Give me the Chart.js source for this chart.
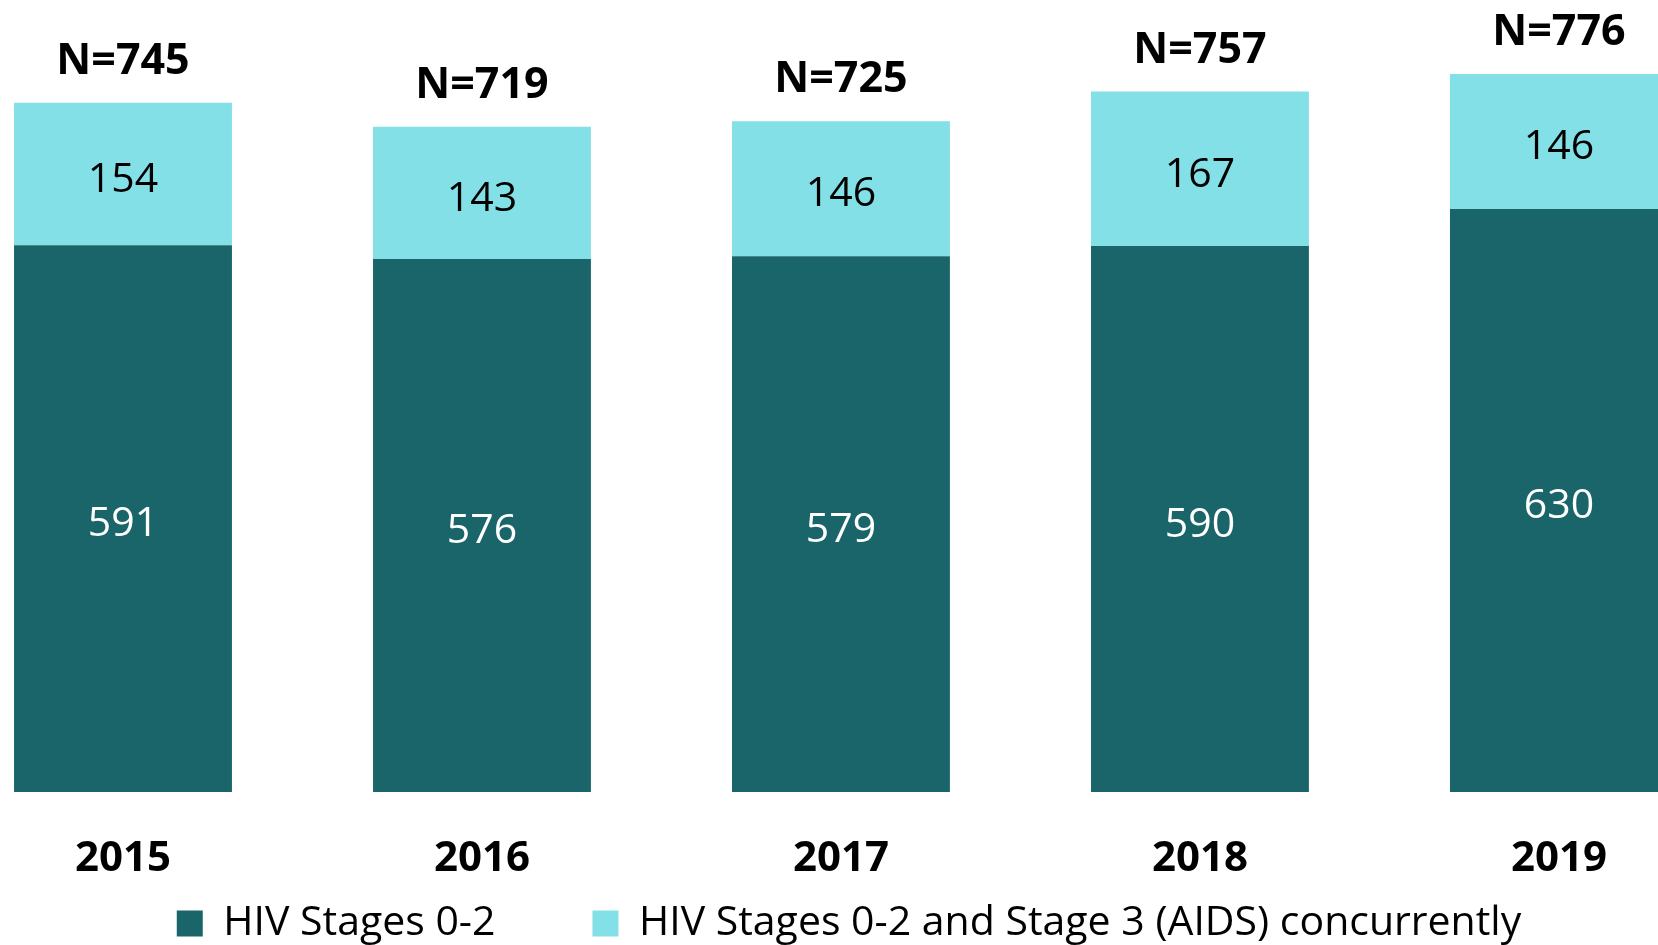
<!DOCTYPE html>
<html>
<head>
<meta charset="utf-8">
<script src="https://cdn.jsdelivr.net/npm/chart.js@4/dist/chart.umd.min.js"></script>
<style>
  html, body { margin: 0; padding: 0; background: #fff; overflow: hidden; }
  canvas { display: block; }
</style>
</head>
<body>
<canvas id="mycanvas" width="1658" height="945"></canvas>
<script>
// values
var years = ['2015', '2016', '2017', '2018', '2019'];
var stages02 = [591, 576, 579, 590, 630];
var concurrent = [154, 143, 146, 167, 146];
var totals = [745, 719, 725, 757, 776];

var seriesNames = ['HIV Stages 0-2', 'HIV Stages 0-2 and Stage 3 (AIDS) concurrently'];
var dark = '#1a6569';
var light = '#82e0e6';
var FONT = '"Open Sans", "Noto Sans", sans-serif';

function toPoints(arr) {
  return arr.map(function (v, i) { return { x: i, y: v }; });
}

// numbers in the middle of each segment, N=... above each stack
var barLabels = {
  id: 'barLabels',
  afterDatasetsDraw: function (chart) {
    var ctx = chart.ctx;
    var colors = ['#ffffff', '#000000'];
    ctx.save();
    ctx.textAlign = 'center';
    ctx.textBaseline = 'middle';
    ctx.font = '41px ' + FONT;
    chart.data.datasets.forEach(function (ds, di) {
      var meta = chart.getDatasetMeta(di);
      meta.data.forEach(function (bar, i) {
        ctx.fillStyle = colors[di];
        ctx.fillText(String(ds.data[i].y), bar.x, (bar.y + bar.base) / 2 + 6);
      });
    });
    var topMeta = chart.getDatasetMeta(chart.data.datasets.length - 1);
    ctx.font = 'bold 43px ' + FONT;
    ctx.fillStyle = '#000';
    ctx.textBaseline = 'alphabetic';
    topMeta.data.forEach(function (bar, i) {
      ctx.fillText('N=' + totals[i], bar.x, bar.y - 29);
    });
    ctx.restore();
  }
};

var legendPad = 97;

var chart = new Chart(document.getElementById('mycanvas'), {
  type: 'bar',
  data: {
    datasets: [{
      label: seriesNames[0],
      data: toPoints(stages02),
      backgroundColor: dark,
      borderWidth: 0,
      clip: false
    }, {
      label: seriesNames[1],
      data: toPoints(concurrent),
      backgroundColor: light,
      borderWidth: 0,
      clip: false
    }]
  },
  options: {
    responsive: false,
    animation: false,
    devicePixelRatio: 1,
    categoryPercentage: 1,
    barPercentage: 0.607,
    layout: { padding: { left: 40, right: 0, top: 0, bottom: 0 } },
    scales: {
      x: {
        type: 'linear',
        stacked: true,
        offset: false,
        min: -0.2312,
        max: 4.276,
        grid: { display: false, drawTicks: false },
        border: { display: false },
        afterBuildTicks: function (axis) {
          axis.ticks = years.map(function (y, i) { return { value: i }; });
        },
        afterFit: function (scale) {
          scale.height = 14;
        },
        ticks: {
          mirror: true,
          padding: -92,
          color: '#000',
          font: { family: FONT, size: 42, weight: 'bold' },
          callback: function (value) { return years[value]; }
        }
      },
      y: {
        stacked: true,
        display: false,
        min: 0,
        max: 856
      }
    },
    plugins: {
      legend: {
        position: 'bottom',
        maxHeight: legendPad + 42,
        labels: {
          color: '#000',
          boxWidth: 26,
          boxHeight: 26,
          padding: legendPad,
          font: { family: FONT, size: 41 }
        }
      },
      tooltip: { enabled: false }
    }
  },
  plugins: [barLabels]
});
</script>
</body>
</html>
